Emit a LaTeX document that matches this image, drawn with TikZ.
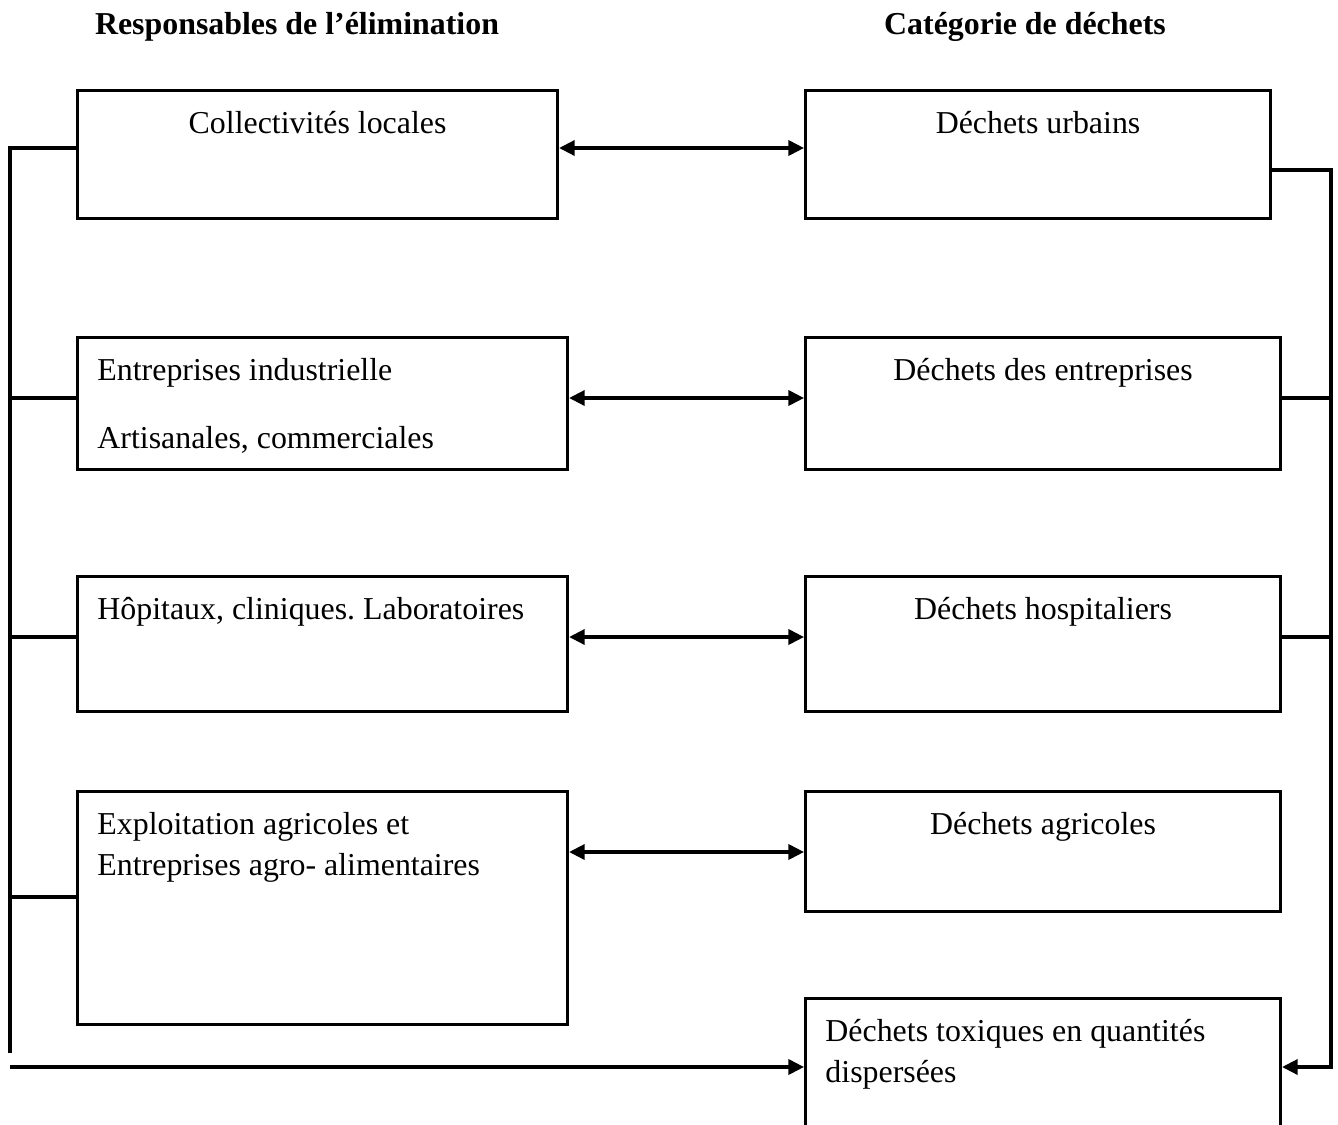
\documentclass[tikz,border=0pt]{standalone}
\usepackage{fontspec}
\setmainfont{Liberation Serif}
\usetikzlibrary{arrows.meta}
\frenchspacing

\tikzset{
  box/.style={draw, line width=1.4pt, anchor=north west, inner sep=0pt},
  lblw/.style={anchor=north west, inner sep=0pt, text height=10pt, xshift=9.45pt, yshift=-9.8pt, align=left},
  lblc/.style={anchor=north, inner sep=0pt, text height=10pt, yshift=-9.8pt, align=center},
  head/.style={anchor=base, font=\fontsize{14.35pt}{17pt}\selectfont\bfseries},
  link/.style={line width=1.4pt, {Triangle[length=7pt,width=6.8pt]}-{Triangle[length=7pt,width=6.8pt]}},
  arr/.style={line width=1.4pt, -{Triangle[length=7pt,width=6.8pt]}},
  bus/.style={line width=1.4pt}
}

\begin{document}
\begin{tikzpicture}[x=0.45pt,y=-0.45pt,font=\fontsize{14.35pt}{18.45pt}\selectfont]
		\useasboundingbox (0,0) rectangle (1338,1124);
		% titres
		\node[head] (hresp) at (297,34) {Responsables de l’élimination};
		\node[head] (hcat) at (1025,34) {Catégorie de déchets};
		% responsables
		\node[box, minimum width=216pt, minimum height=57.6pt, label={[lblc]north:Collectivités locales}] (coll) at (76,89) {};
		\node[box, minimum width=220.5pt, minimum height=59.4pt, label={[lblw, text height=40.6pt]north west:Entreprises industrielle\\[12.15pt]Artisanales, commerciales}] (entr) at (76,336) {};
		\node[box, minimum width=220.5pt, minimum height=60.75pt, label={[lblw]north west:Hôpitaux, cliniques. Laboratoires}] (hopi) at (76,575) {};
		\node[box, minimum width=220.5pt, minimum height=104.85pt, label={[lblw, text height=28.45pt]north west:Exploitation agricoles et\\Entreprises agro- alimentaires}] (expl) at (76,790) {};
		% categories
		\node[box, minimum width=209.25pt, minimum height=57.6pt, label={[lblc]north:Déchets urbains}] (urb) at (804,89) {};
		\node[box, minimum width=213.75pt, minimum height=59.4pt, label={[lblc]north:Déchets des entreprises}] (dent) at (804,336) {};
		\node[box, minimum width=213.75pt, minimum height=60.75pt, label={[lblc]north:Déchets hospitaliers}] (dhop) at (804,575) {};
		\node[box, minimum width=213.75pt, minimum height=54pt, label={[lblc]north:Déchets agricoles}] (dagr) at (804,790) {};
		\node[box, minimum width=213.75pt, minimum height=67.5pt, label={[lblw, text height=28.45pt]north west:Déchets toxiques en quantités\\dispersées}] (dtox) at (804,997) {};
		% liaisons
		\draw[link] (coll.east |- 0,148) -- (urb.west |- 0,148);
		\draw[link] (entr.east |- 0,398) -- (dent.west |- 0,398);
		\draw[link] (hopi.east |- 0,637) -- (dhop.west |- 0,637);
		\draw[link] (expl.east |- 0,852) -- (dagr.west |- 0,852);
		% bus gauche
		\coordinate (busL) at (10,1053);
		\coordinate (inL) at (10,1067);
		\draw[bus] (coll.west |- 0,148) -| (busL);
		\draw[bus] (entr.west |- 0,398) -- (busL |- 0,398);
		\draw[bus] (hopi.west |- 0,637) -- (busL |- 0,637);
		\draw[bus] (expl.west |- 0,897) -- (busL |- 0,897);
		\draw[arr] (inL) -- (dtox.west |- inL);
		% bus droite
		\coordinate (busR) at (1331,1067);
		\draw[arr] (urb.east |- 0,170) -| (busR) -- (dtox.east |- busR);
		\draw[bus] (dent.east |- 0,398) -- (busR |- 0,398);
		\draw[bus] (dhop.east |- 0,637) -- (busR |- 0,637);
		\end{tikzpicture}
\end{document}
